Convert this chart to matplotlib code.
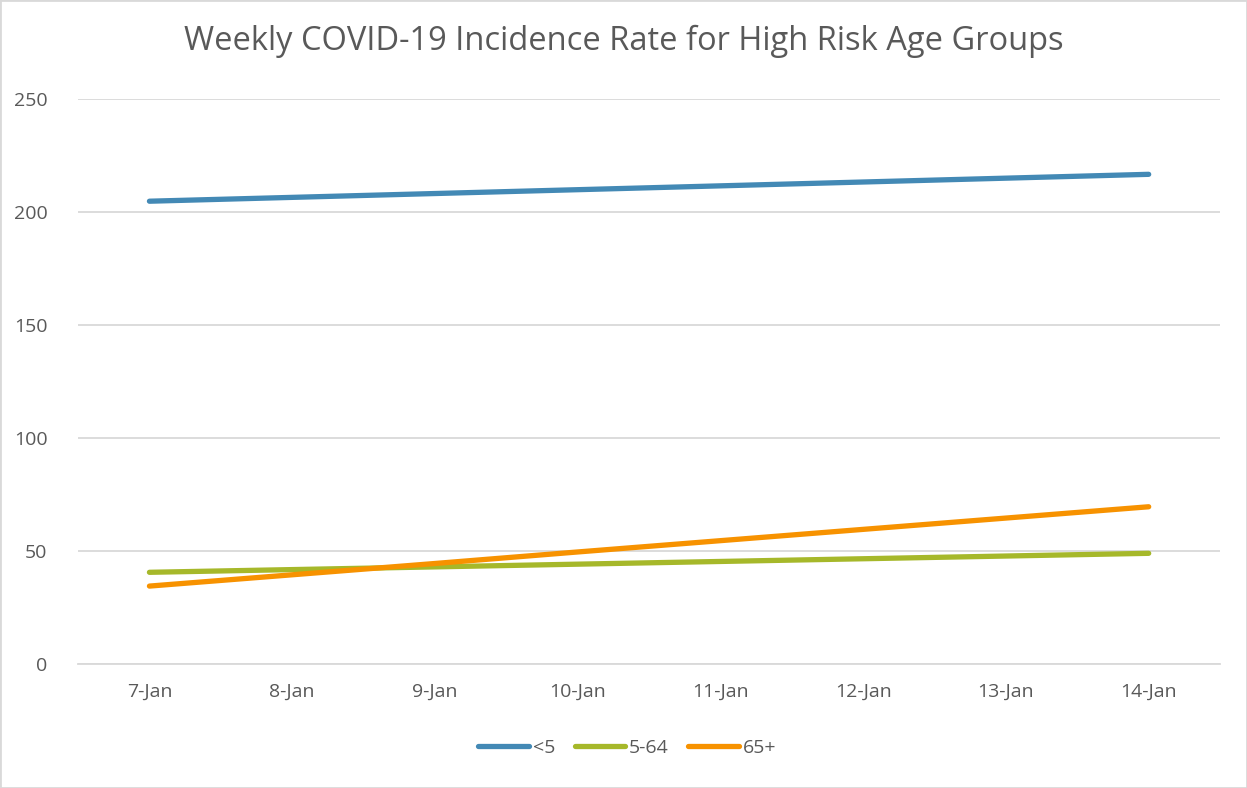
import matplotlib.pyplot as plt
import numpy as np

# データ
dates = ["7-Jan", "8-Jan", "9-Jan", "10-Jan", "11-Jan", "12-Jan", "13-Jan", "14-Jan"]
under5 = [204.9, 206.6, 208.3, 210.0, 211.7, 213.4, 215.1, 216.8]
age5_64 = [40.7, 41.9, 43.1, 44.3, 45.5, 46.7, 47.9, 49.1]
age65 = [34.6, 39.6, 44.6, 49.7, 54.7, 59.7, 64.7, 69.7]

labels = ["<5", "5-64", "65+"]
colors = ["#4389B5", "#A6B82A", "#F79200"]

plt.rcParams['font.family'] = ['Open Sans', 'DejaVu Sans']
txt = "#595959"

fig = plt.figure(figsize=(12.47, 7.88), dpi=100)
ax = fig.add_axes([0.0626, 0.157, 0.9158, 0.717])

x = np.arange(len(dates))
for ys, lab, c in zip([under5, age5_64, age65], labels, colors):
    ax.plot(x, ys, color=c, lw=3.8, solid_capstyle='round', label=lab)

ax.set_xlim(-0.5, len(dates) - 0.5)
ax.set_ylim(0, 250)
ax.set_yticks(np.arange(0, 251, 50))
ax.set_xticks(x)
ax.set_xticklabels(dates)
ax.grid(axis='y', color='#D9D9D9', lw=1.3)
ax.set_axisbelow(True)
for s in ['top', 'right', 'left']:
    ax.spines[s].set_visible(False)
ax.spines['bottom'].set_color('#D9D9D9')
ax.spines['bottom'].set_linewidth(1.3)
ax.tick_params(length=0, labelsize=14, colors=txt, pad=13)
ax.tick_params(axis='y', pad=22)

fig.suptitle("Weekly COVID-19 Incidence Rate for High Risk Age Groups",
             fontsize=23.5, color=txt, y=0.968)

fig.legend(loc='center', bbox_to_anchor=(0.503, 0.051), ncol=3, frameon=False,
           fontsize=14, labelcolor=txt, handlelength=2.6, handletextpad=0.2,
           columnspacing=1.0)

# 外枠
fig.patches.append(plt.Rectangle((0, 0), 1, 1, transform=fig.transFigure,
                                 fill=False, edgecolor='#D9D9D9', lw=2))

fig.savefig("out.png", dpi=100)
